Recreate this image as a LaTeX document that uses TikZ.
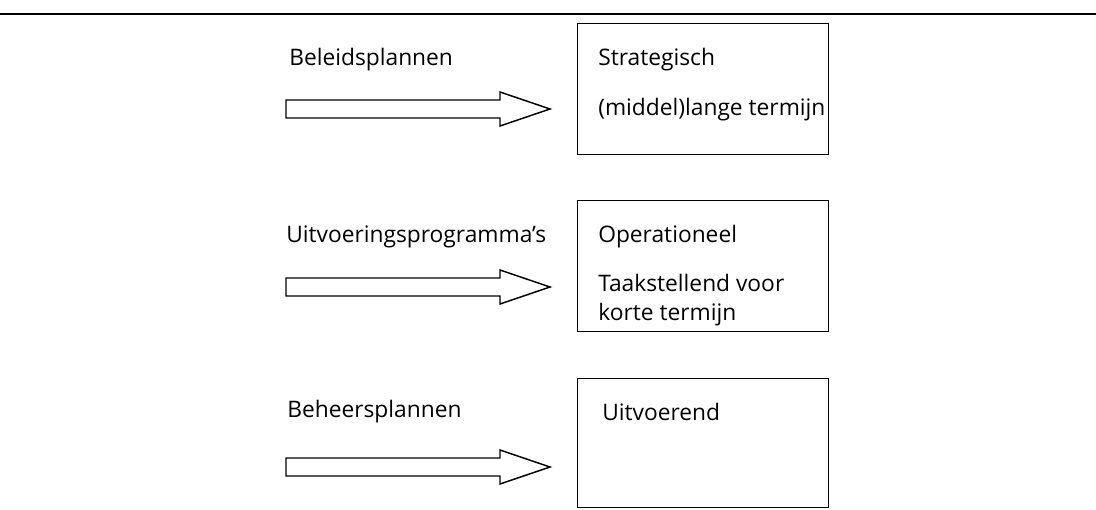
\documentclass[tikz,border=0pt]{standalone}
\usepackage{fontspec}
\setmainfont{Open Sans}
\newlength\reftw
\begin{document}
\settowidth\reftw{\fontsize{10}{12}\selectfont Uitvoeringsprogramma's}%
\pgfmathsetmacro\fsz{10*195/\reftw}%
\pgfmathsetmacro\fbs{\fsz*1.3}%
\begin{tikzpicture}[x=0.75pt,y=-0.75pt,
  lbl/.style={anchor=west,inner sep=0pt,font=\fontsize{\fsz}{\fbs}\selectfont},
  frame/.style={draw,line width=1.1pt,anchor=north west,inner sep=0pt},
  fatarrow/.style={draw,line width=1.1pt,line join=miter}]
\useasboundingbox (0,0) rectangle (1096,510);
\draw[line width=1.5pt] (0,14) -- (1096,14);
% boxes
\node[frame,minimum width=251*0.75pt,minimum height=131*0.75pt] (b1) at (577,23) {};
\node[frame,minimum width=251*0.75pt,minimum height=131*0.75pt] (b2) at (577,200) {};
\node[frame,minimum width=251*0.75pt,minimum height=129*0.75pt] (b3) at (577,378) {};
% left labels
\node[lbl] (l1) at (289,60) {Beleidsplannen};
\node[lbl] (l2) at (286,237) {Uitvoeringsprogramma's};
\node[lbl] (l3) at (287,412) {Beheersplannen};
% box texts
\node[lbl] (t1a) at (598,60) {Strategisch};
\node[lbl] (t1b) at (598,110) {(middel)lange termijn};
\node[lbl] (t2a) at (598,237) {Operationeel};
\node[lbl,align=left] (t2b) at (598,300) {Taakstellend voor\\korte termijn};
\node[lbl] (t3a) at (602,412) {Uitvoerend};
% arrows
\foreach \y/\n in {109/1,287/2,467/3}{
  \coordinate (tip\n) at (550,\y);
  \draw[fatarrow] (286,\y-9) -- (500,\y-9) -- (500,\y-17) -- (tip\n) -- (500,\y+17) -- (500,\y+9) -- (286,\y+9) -- cycle;
}
\end{tikzpicture}
\end{document}
